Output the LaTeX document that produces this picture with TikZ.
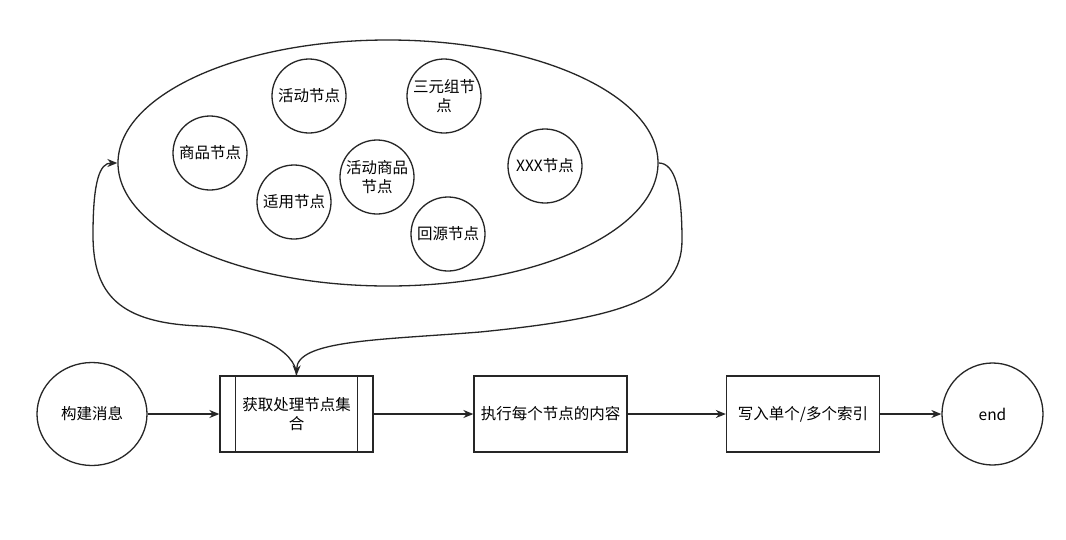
\documentclass[tikz,border=0pt]{standalone}
\usepackage{fontspec}
\setmainfont{Noto Sans CJK SC}
\usetikzlibrary{shapes.geometric,arrows.meta}
\tikzset{
  ln/.style={line width=1.3pt, draw=black!85},
  arr/.style={ln, -{Stealth[length=10pt,width=8pt]}},
  txt/.style={font=\fontsize{15.5}{19.5}\selectfont},
  inner/.style={circle, ln, txt, minimum size=74pt, inner sep=0pt, align=center},
  flowbox/.style={rectangle, ln, txt, minimum width=153pt, minimum height=76pt, inner sep=0pt, align=center},
  term/.style={ellipse, ln, txt, inner sep=0pt, align=center}
}
\begin{document}
\begin{tikzpicture}[x=1pt,y=-1pt]
\useasboundingbox[fill=white] (0,0) rectangle (1066,539);
% big ellipse
\node[ellipse, ln, minimum width=540pt, minimum height=246pt, inner sep=0pt] (big) at (388,163) {};
% inner circles
\node[inner] (hd) at (309,96) {活动节点};
\node[inner] (sy) at (444,96) {三元组节\\点};
\node[inner] (sp) at (210,153) {商品节点};
\node[inner] (hs) at (377,177) {活动商品\\节点};
\node[inner] (sh) at (294,202) {适用节点};
\node[inner] (xx) at (545,166) {XXX节点};
\node[inner] (hy) at (448,234) {回源节点};
% bottom row
\node[term, minimum width=110pt, minimum height=103pt] (msg) at (92,414) {构建消息};
\node[flowbox] (get) at (296.5,414) {获取处理节点集\\合};
\draw[ln] ([xshift=16pt]get.north west) -- ([xshift=16pt]get.south west);
\draw[ln] ([xshift=-16pt]get.north east) -- ([xshift=-16pt]get.south east);
\node[flowbox] (exec) at (550.5,414) {执行每个节点的内容};
\node[flowbox] (wr) at (803,414) {写入单个/多个索引};
\node[term, minimum width=101pt, minimum height=102pt] (endn) at (992.5,414) {end};
% straight arrows
\draw[arr] (msg.east) -- (get.west);
\draw[arr] (get.east) -- (exec.west);
\draw[arr] (exec.east) -- (wr.west);
\draw[arr] (wr.east) -- (endn.west);
% loop curves
\draw[arr] (get.north) .. controls (297,350) and (250,328) .. (200,326)
  .. controls (120,323) and (93,295) .. (93,235)
  .. controls (93,180) and (100,163) .. (big.west);
\draw[arr] (big.east) .. controls (675,163) and (682,190) .. (682,240)
  .. controls (682,300) and (620,318) .. (480,332)
  .. controls (380,340) and (297,340) .. (get.north);
\end{tikzpicture}
\end{document}
